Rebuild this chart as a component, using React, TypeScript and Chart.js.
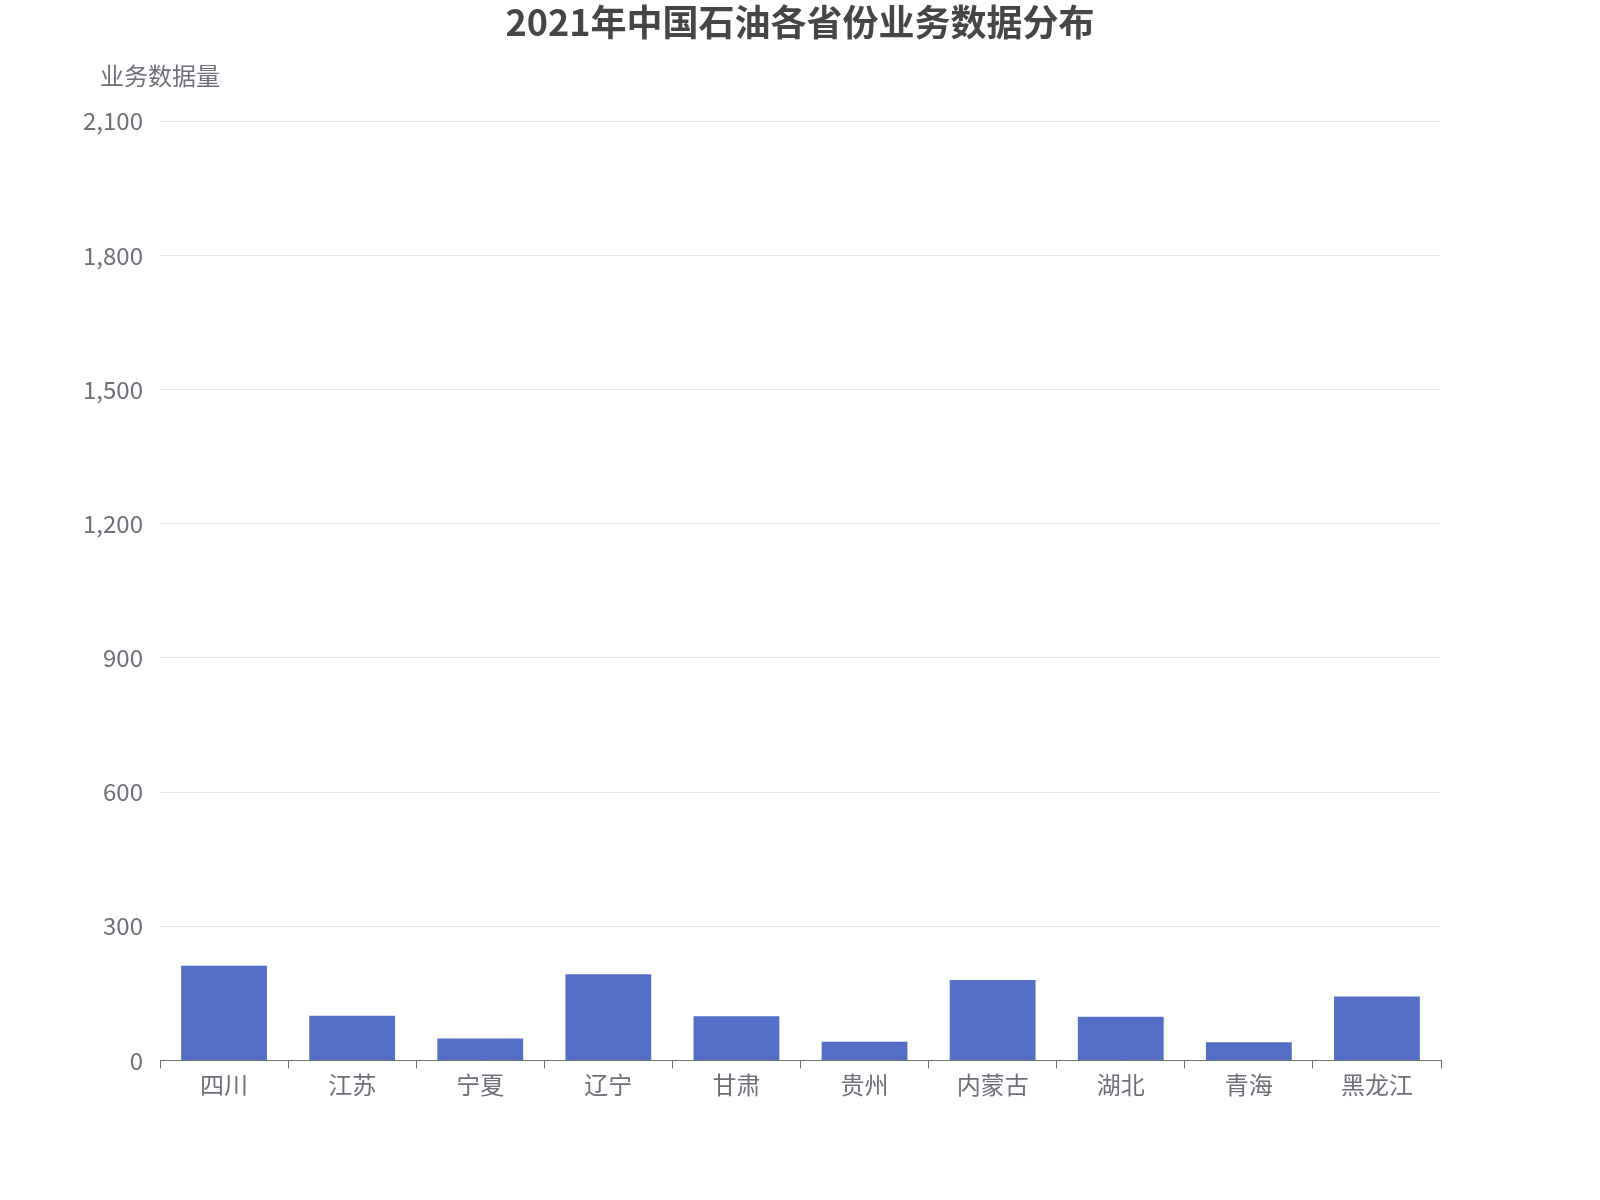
import { useEffect, useRef } from 'react';
import { Chart, registerables } from 'chart.js';

Chart.register(...registerables);

const FONT = '"Noto Sans CJK SC", "Noto Sans", sans-serif';
const TEXT = '#6E7079';

const TITLE = '2021年中国石油各省份业务数据分布';
const Y_NAME = '业务数据量';
const PROVINCES = ['四川', '江苏', '宁夏', '辽宁', '甘肃', '贵州', '内蒙古', '湖北', '青海', '黑龙江'];
const VALUES = [212, 100, 49, 193, 99, 42, 180, 98, 41, 143];
const Y_MAX = 2100;
const Y_STEP = 300;

// draws the y axis name horizontally above the axis, centred on it
const axisNamePlugin = {
  id: 'axisName',
  afterDraw(chart: Chart) {
    const { ctx, chartArea } = chart;
    ctx.save();
    ctx.font = `24px ${FONT}`;
    ctx.fillStyle = TEXT;
    ctx.textAlign = 'center';
    ctx.textBaseline = 'middle';
    ctx.fillText(Y_NAME, chartArea.left, chartArea.top - 45);
    ctx.restore();
  },
};

function ProvinceBars() {
  const ref = useRef<HTMLCanvasElement>(null);
  const chartRef = useRef<Chart | null>(null);

  useEffect(() => {
    if (!ref.current) return;
    const ctx = ref.current.getContext('2d');
    if (!ctx) return;
    chartRef.current = new Chart(ctx, {
      type: 'bar',
      data: {
        labels: PROVINCES,
        datasets: [
          {
            label: Y_NAME,
            data: VALUES,
            backgroundColor: '#5470C6',
            barPercentage: 0.67,
            categoryPercentage: 1,
          },
        ],
      },
      options: {
        responsive: true,
        maintainAspectRatio: false,
        animation: false,
        layout: { padding: 0 },
        plugins: {
          legend: { display: false },
          tooltip: { enabled: false },
          title: {
            display: true,
            text: TITLE,
            color: '#464646',
            font: { family: FONT, size: 36, weight: 'bold' },
            padding: { top: 1, bottom: 77 },
          },
        },
        scales: {
          x: {
            grid: {
              drawOnChartArea: false,
              drawTicks: true,
              tickLength: 8,
              color: TEXT,
              offset: true,
            },
            border: { display: true, color: TEXT, width: 1 },
            ticks: {
              color: TEXT,
              font: { family: FONT, size: 24 },
              padding: 2,
              maxRotation: 0,
              autoSkip: false,
            },
            afterFit: (scale) => {
              scale.height = 139.5;
            },
          },
          y: {
            min: 0,
            max: Y_MAX,
            grid: { color: '#E0E6F1', lineWidth: 1, drawTicks: false },
            border: { display: false },
            ticks: {
              stepSize: Y_STEP,
              color: TEXT,
              font: { family: FONT, size: 24 },
              padding: 17,
              callback: (v) => Number(v).toLocaleString('en-US'),
            },
            afterFit: (scale) => {
              scale.width = 160;
            },
          },
          // empty right-hand space so the title stays centred on the canvas
          yRight: {
            position: 'right',
            min: 0,
            max: Y_MAX,
            grid: { display: false },
            border: { display: false },
            ticks: { display: false },
            afterFit: (scale) => {
              scale.width = 159;
            },
          },
        },
      },
      plugins: [axisNamePlugin],
    });
    return () => {
      chartRef.current?.destroy();
      chartRef.current = null;
    };
  }, []);

  return (
    <div
      style={{
        position: 'fixed',
        left: 0,
        top: 0,
        width: 1600,
        height: 1200,
        background: '#fff',
      }}
    >
      <canvas ref={ref} />
    </div>
  );
}

export default function App() {
  return <ProvinceBars />;
}
